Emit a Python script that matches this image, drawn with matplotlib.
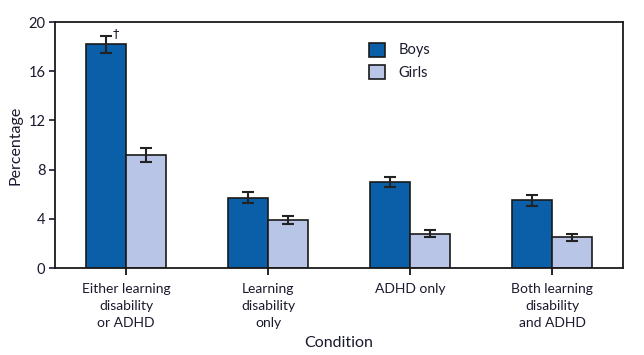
import matplotlib.pyplot as plt
import numpy as np

plt.rcParams['font.family'] = ['Lato', 'DejaVu Sans']

categories = ["Either learning\ndisability\nor ADHD", "Learning\ndisability\nonly",
              "ADHD only", "Both learning\ndisability\nand ADHD"]
boys = [18.2, 5.7, 7.0, 5.5]
girls = [9.2, 3.9, 2.8, 2.5]
boys_err = [0.7, 0.45, 0.4, 0.42]
girls_err = [0.55, 0.3, 0.28, 0.3]
yticks = [0, 4, 8, 12, 16, 20]

txt = '#1a1a2e'
fig = plt.figure(figsize=(6.44, 3.55), dpi=100)
ax = fig.add_axes([55/644, 1-268/355, 568/644, 246/355])

x = np.arange(len(categories))
w = 0.285
err_kw = dict(ecolor='#222222', elinewidth=1.5, capsize=4, capthick=1.5)
ax.bar(x - w/2, boys, w, yerr=boys_err, color='#0b5ea8', edgecolor='#1a1a1a',
       linewidth=1.2, label='Boys', error_kw=err_kw)
ax.bar(x + w/2, girls, w, yerr=girls_err, color='#b9c5e7', edgecolor='#1a1a1a',
       linewidth=1.2, label='Girls', error_kw=err_kw)

ax.text(x[0] - w/2 + 0.045, boys[0] + boys_err[0] - 0.35, '\u2020', fontsize=9,
        color=txt, ha='left', va='bottom', family='DejaVu Sans')

ax.set_xlim(-0.5, 3.5)
ax.set_ylim(0, 20)
ax.set_yticks(yticks)
ax.set_xticks(x)
ax.set_xticklabels(categories, fontsize=10, color=txt, linespacing=1.5)
ax.tick_params(axis='y', labelsize=10.5, colors=txt, length=4, width=1.2, pad=3)
ax.tick_params(axis='x', length=5, width=1.2, pad=6)
for s in ax.spines.values():
    s.set_linewidth(1.3)
    s.set_color('#1a1a1a')

ax.set_ylabel('Percentage', fontsize=11.5, color=txt, labelpad=4)
ax.set_xlabel('Condition', fontsize=11.5, color=txt, labelpad=5)

ax.legend(loc='upper left', bbox_to_anchor=(0.53, 0.97), frameon=False,
          fontsize=10.5, labelcolor=txt, handlelength=1.1, handleheight=1.1,
          handletextpad=0.9, labelspacing=0.55)

fig.savefig('out.png', dpi=100)
